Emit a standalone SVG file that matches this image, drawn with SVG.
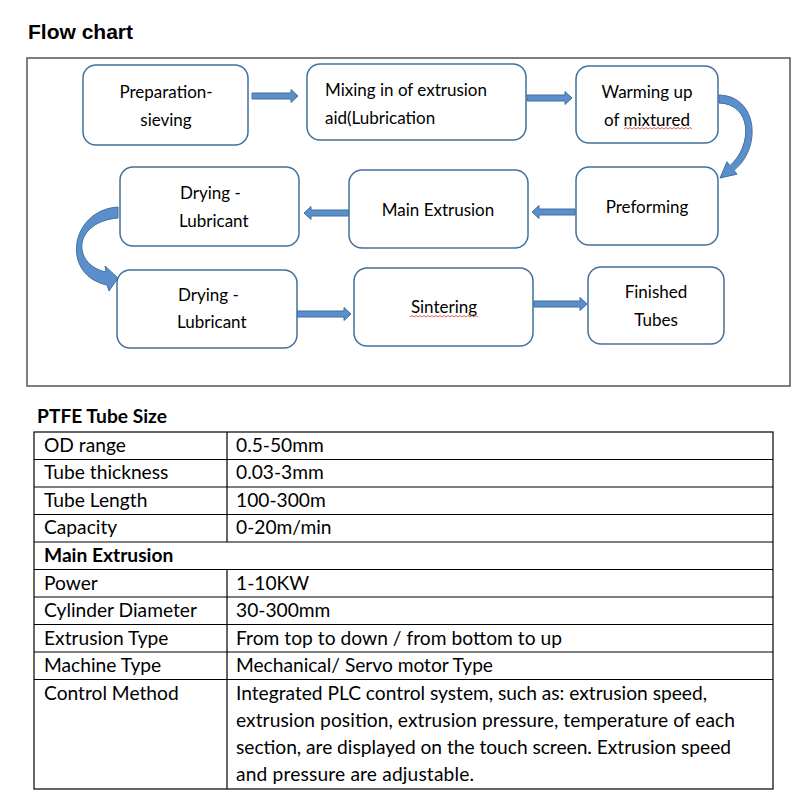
<svg xmlns="http://www.w3.org/2000/svg" width="800" height="800" viewBox="0 0 800 800">
<style>
.box{fill:#fff;stroke:#41719c;stroke-width:1.5}
.arr{fill:#5b8fcc;stroke:#41719c;stroke-width:1}
.bt{font-family:Lato,"Liberation Sans",sans-serif;font-size:17px;fill:#000}
.c{text-anchor:middle}
.tt{font-family:Lato,"Liberation Sans",sans-serif;font-size:19.2px;fill:#000}
.b{font-weight:bold}
.tl{stroke:#000;stroke-width:1.2;fill:none}
.wave{fill:none;stroke:#e03030;stroke-width:0.8}
</style>
<rect width="800" height="800" fill="#fff"/>
<text x="28" y="39" font-family="'Liberation Sans',Arial,sans-serif" font-size="21" font-weight="bold">Flow chart</text>
<rect x="27" y="58" width="763" height="328" fill="none" stroke="#555" stroke-width="1.5"/>

<g id="connectors">
<path class="arr" d="M252,93 H291 V89.5 L298,96 L291,102.5 V99 H252 Z"/>
<path class="arr" d="M527,95 H565 V91.5 L572,98 L565,104.5 V101 H527 Z"/>
<path class="arr" d="M719,95 C758,96 762,148 734,170.3 L737,174.2 L720,178 L727,161.8 L730,165.7 C753,145 752,104 719,103 Z"/>
<path class="arr" d="M575,209 H539 V205.5 L532,212 L539,218.5 V215 H575 Z"/>
<path class="arr" d="M349,210 H311 V206.5 L304,213 L311,219.5 V216 H349 Z"/>
<path class="arr" d="M118,207 C70,210 60,275 107,285 L109,291 L118,278 L105,266 L106,272 C72,265 72,222 118,218 Z"/>
<path class="arr" d="M297,311 H344 V307.5 L351,314 L344,320.5 V317 H297 Z"/>
<path class="arr" d="M534,301 H580 V297.5 L587,304 L580,310.5 V307 H534 Z"/>
</g>

<g id="n1"><rect class="box" x="83" y="65" width="165" height="80" rx="13"/>
<text class="bt c" x="166" y="98">Preparation-</text><text class="bt c" x="166" y="126">sieving</text></g>
<g id="n2"><rect class="box" x="307" y="64" width="219" height="76" rx="13"/>
<text class="bt" x="325" y="96">Mixing in of extrusion</text><text class="bt" x="325" y="124">aid(Lubrication</text></g>
<g id="n3"><rect class="box" x="576" y="66" width="142" height="77" rx="13"/>
<text class="bt c" x="647" y="98">Warming up</text><text class="bt c" x="647" y="126">of mixtured</text>
<path class="wave" d="M624,129 l2,-1.5 l2,1.5 l2,-1.5 l2,1.5 l2,-1.5 l2,1.5 l2,-1.5 l2,1.5 l2,-1.5 l2,1.5 l2,-1.5 l2,1.5 l2,-1.5 l2,1.5 l2,-1.5 l2,1.5 l2,-1.5 l2,1.5 l2,-1.5 l2,1.5 l2,-1.5 l2,1.5 l2,-1.5 l2,1.5 l2,-1.5 l2,1.5 l2,-1.5 l2,1.5 l2,-1.5 l2,1.5 l2,-1.5 l2,1.5 l2,-1.5 l2,1.5"/></g>
<g id="n4"><rect class="box" x="576" y="167" width="142" height="78" rx="13"/>
<text class="bt c" x="647" y="213">Preforming</text></g>
<g id="n5"><rect class="box" x="349" y="170" width="179" height="78" rx="13"/>
<text class="bt c" x="438" y="216">Main Extrusion</text></g>
<g id="n6"><rect class="box" x="120" y="167" width="179" height="79" rx="13"/>
<text class="bt" x="180" y="199">Drying -</text><text class="bt" x="179" y="227">Lubricant</text></g>
<g id="n7"><rect class="box" x="117" y="270" width="180" height="78" rx="13"/>
<text class="bt" x="178" y="301">Drying -</text><text class="bt" x="177" y="328">Lubricant</text></g>
<g id="n8"><rect class="box" x="354" y="268" width="179" height="78" rx="13"/>
<text class="bt c" x="444" y="313">Sintering</text>
<path class="wave" d="M410,317 l2,-1.5 l2,1.5 l2,-1.5 l2,1.5 l2,-1.5 l2,1.5 l2,-1.5 l2,1.5 l2,-1.5 l2,1.5 l2,-1.5 l2,1.5 l2,-1.5 l2,1.5 l2,-1.5 l2,1.5 l2,-1.5 l2,1.5 l2,-1.5 l2,1.5 l2,-1.5 l2,1.5 l2,-1.5 l2,1.5 l2,-1.5 l2,1.5 l2,-1.5 l2,1.5 l2,-1.5 l2,1.5 l2,-1.5 l2,1.5 l2,-1.5 l2,1.5"/></g>
<g id="n9"><rect class="box" x="588" y="267" width="136" height="77" rx="13"/>
<text class="bt c" x="656" y="298">Finished</text><text class="bt c" x="656" y="326">Tubes</text></g>

<g id="table">
<text class="tt b" x="37" y="423">PTFE Tube Size</text>
<rect class="tl" x="34" y="432" width="739" height="357"/>
<path class="tl" d="M34,459.5 H773 M34,487 H773 M34,514.5 H773 M34,542 H773 M34,569.5 H773 M34,597 H773 M34,624.5 H773 M34,652 H773 M34,679.5 H773 M227,432 V542 M227,569.5 V789"/>
<text class="tt" x="44" y="452">OD range</text><text class="tt" x="236" y="452">0.5-50mm</text>
<text class="tt" x="44" y="479">Tube thickness</text><text class="tt" x="236" y="479">0.03-3mm</text>
<text class="tt" x="44" y="507">Tube Length</text><text class="tt" x="236" y="507">100-300m</text>
<text class="tt" x="44" y="534">Capacity</text><text class="tt" x="236" y="534">0-20m/min</text>
<text class="tt b" x="44" y="562">Main Extrusion</text>
<text class="tt" x="44" y="590">Power</text><text class="tt" x="236" y="590">1-10KW</text>
<text class="tt" x="44" y="617">Cylinder Diameter</text><text class="tt" x="236" y="617">30-300mm</text>
<text class="tt" x="44" y="645">Extrusion Type</text><text class="tt" x="236" y="645" textLength="326" lengthAdjust="spacing">From top to down / from bottom to up</text>
<text class="tt" x="44" y="672">Machine Type</text><text class="tt" x="236" y="672" textLength="257" lengthAdjust="spacing">Mechanical/ Servo motor Type</text>
<text class="tt" x="44" y="700">Control Method</text>
<text class="tt" x="236" y="700" textLength="471" lengthAdjust="spacing">Integrated PLC control system, such as: extrusion speed,</text>
<text class="tt" x="236" y="727" textLength="499" lengthAdjust="spacing">extrusion position, extrusion pressure, temperature of each</text>
<text class="tt" x="236" y="754" textLength="495" lengthAdjust="spacing">section, are displayed on the touch screen. Extrusion speed</text>
<text class="tt" x="236" y="781" textLength="238" lengthAdjust="spacing">and pressure are adjustable.</text>
</g>
</svg>
